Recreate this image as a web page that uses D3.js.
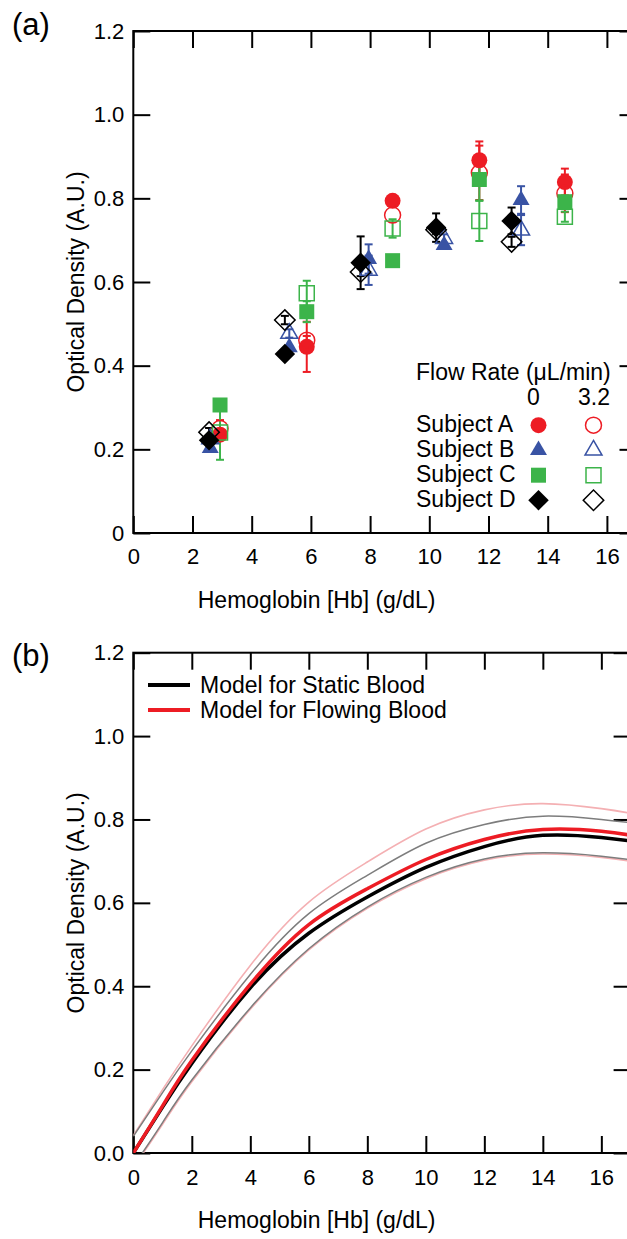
<!DOCTYPE html>
<html>
<head>
<meta charset="utf-8">
<script src="https://cdn.jsdelivr.net/npm/d3@7"></script>
<style>
  body { margin: 0; background: #fff; }
  svg { display: block; font-family: "Liberation Sans", Arial, sans-serif; }
</style>
</head>
<body>
<div id="chart"></div>
<script>
/*
*    Optical density vs hemoglobin: (a) measured points, (b) model curves
*/

// ---- data ----
var xTicks = [0, 2, 4, 6, 8, 10, 12, 14, 16];
var yTicks = [0, 0.2, 0.4, 0.6, 0.8, 1.0, 1.2];

// Hb levels (g/dL) per subject
var hbA = [2.93, 5.86, 8.76, 11.69, 14.58];
var hbB = [2.60, 5.27, 7.95, 10.50, 13.10];
var hbC = [2.93, 5.86, 8.76, 11.69, 14.58];
var hbD = [2.56, 5.12, 7.68, 10.23, 12.78];

// optical density at flow 0 and 3.2 uL/min, with error bars
var odA0  = [0.235, 0.445, 0.794, 0.891, 0.839];
var errA0 = [0.010, 0.060, 0.000, 0.045, 0.032];
var odA32  = [0.250, 0.461, 0.760, 0.861, 0.812];
var errA32 = [0.020, 0.010, 0.000, 0.065, 0.045];

var odB0  = [0.203, 0.444, 0.655, 0.688, 0.796];
var errB0 = [0.000, 0.000, 0.035, 0.000, 0.033];
var odB32  = [0.225, 0.477, 0.628, 0.704, 0.724];
var errB32 = [0.000, 0.010, 0.035, 0.010, 0.036];

var odC0  = [0.306, 0.529, 0.651, 0.845, 0.792];
var errC0 = [0.000, 0.025, 0.000, 0.050, 0.012];
var odC32  = [0.240, 0.573, 0.728, 0.746, 0.756];
var errC32 = [0.065, 0.030, 0.022, 0.048, 0.012];

var odD0  = [0.222, 0.428, 0.646, 0.730, 0.746];
var errD0 = [0.000, 0.000, 0.063, 0.034, 0.032];
var odD32  = [0.241, 0.509, 0.624, 0.725, 0.696];
var errD32 = [0.010, 0.010, 0.010, 0.010, 0.012];

// model curves, panel (b)
var hbModel = [0, 1, 2, 4, 6, 8, 10, 12, 14, 16, 17];
var odStatic   = [0, 0.110, 0.215, 0.396, 0.527, 0.614, 0.685, 0.735, 0.762, 0.757, 0.748];
var odStaticHi = [0.040, 0.145, 0.245, 0.428, 0.574, 0.666, 0.743, 0.788, 0.808, 0.800, 0.792];
var odStaticLo = [-0.032, 0.073, 0.175, 0.348, 0.490, 0.590, 0.661, 0.705, 0.720, 0.712, 0.703];
var odFlow   = [0, 0.113, 0.222, 0.405, 0.548, 0.634, 0.704, 0.752, 0.776, 0.772, 0.762];
var odFlowHi = [0.042, 0.152, 0.257, 0.450, 0.602, 0.698, 0.777, 0.823, 0.838, 0.826, 0.815];
var odFlowLo = [-0.035, 0.069, 0.171, 0.345, 0.487, 0.587, 0.658, 0.702, 0.717, 0.709, 0.700];

var RED = "#ed1c24", BLUE = "#3953a4", GREEN = "#3cb44a", BLACK = "#000";

var subjects = [
    { name: "Subject A", color: RED,   shape: "circle",   hb: hbA, od0: odA0, err0: errA0, od32: odA32, err32: errA32 },
    { name: "Subject B", color: BLUE,  shape: "triangle", hb: hbB, od0: odB0, err0: errB0, od32: odB32, err32: errB32 },
    { name: "Subject C", color: GREEN, shape: "square",   hb: hbC, od0: odC0, err0: errC0, od32: odC32, err32: errC32 },
    { name: "Subject D", color: BLACK, shape: "diamond",  hb: hbD, od0: odD0, err0: errD0, od32: odD32, err32: errD32 }
];

var svg = d3.select("#chart").append("svg")
    .attr("width", 627)
    .attr("height", 1239);

function markerPath(shape){
    if (shape == "circle")   return d3.symbol().type(d3.symbolCircle).size(200)();
    if (shape == "triangle") return d3.symbol().type(d3.symbolTriangle).size(125)();
    if (shape == "square")   return d3.symbol().type(d3.symbolSquare).size(225)();
    return d3.symbol().type(d3.symbolSquare).size(210)();
}

function drawMarker(g, shape, color, filled, cx, cy){
    g.append("path")
        .attr("d", markerPath(shape))
        .attr("transform", "translate(" + cx + "," + cy + ")" + (shape == "diamond" ? " rotate(45)" : ""))
        .style("fill", filled ? color : "none")
        .style("stroke", color)
        .style("stroke-width", filled ? 0 : 1.5);
}

// frame, inward ticks on all four sides
function drawFrame(x, y, fmt, padX){
    var x0 = x.range()[0], x1 = x.range()[1];
    var y0 = y.range()[0], y1 = y.range()[1];

    svg.append("g").attr("class", "x axis")
        .attr("transform", "translate(0," + y0 + ")")
        .call(d3.axisBottom(x).tickValues(xTicks).tickSizeInner(-17).tickSizeOuter(0).tickPadding(padX));
    svg.append("g")
        .attr("transform", "translate(0," + y1 + ")")
        .call(d3.axisTop(x).tickValues(xTicks).tickSizeInner(-17).tickSizeOuter(0).tickFormat(""));
    svg.append("g").attr("class", "y axis")
        .attr("transform", "translate(" + x0 + ",0)")
        .call(d3.axisLeft(y).tickValues(yTicks).tickSizeInner(-17).tickSizeOuter(0).tickPadding(9).tickFormat(fmt));
    svg.append("g")
        .attr("transform", "translate(" + x1 + ",0)")
        .call(d3.axisRight(y).tickValues(yTicks).tickSizeInner(-17).tickSizeOuter(0).tickFormat(""));

    svg.selectAll(".domain").remove();
    svg.selectAll(".tick line").style("stroke", "#000").style("stroke-width", 2);
    svg.selectAll(".tick text").style("font-size", "22px").style("fill", "#000").attr("font-family", null);

    svg.append("rect")
        .attr("x", x0).attr("y", y1)
        .attr("width", x1 - x0).attr("height", y0 - y1)
        .style("fill", "none").style("stroke", "#000").style("stroke-width", 2);

    svg.append("text")
        .attr("x", (x0 + 500) / 2)
        .attr("y", y0 + 75)
        .attr("text-anchor", "middle")
        .style("font-size", "23px")
        .text("Hemoglobin [Hb] (g/dL)");

    svg.append("text")
        .attr("transform", "translate(84," + (y0 + y1) / 2 + ") rotate(-90)")
        .attr("text-anchor", "middle")
        .style("font-size", "23px")
        .text("Optical Density (A.U.)");
}

// ---------------- panel (a) ----------------
var xA = d3.scaleLinear().domain([0, 17]).range([133.3, 636.5]);
var yA = d3.scaleLinear().domain([0, 1.2]).range([533, 31]);

svg.append("text").attr("x", 12).attr("y", 35).style("font-size", "31px").text("(a)");

drawFrame(xA, yA, function(d){ return d == 0 ? "0" : d3.format(".1f")(d); }, 15);

var gPts = svg.append("g");

// error bars under the markers
subjects.forEach(function(s){
    [[s.od0, s.err0], [s.od32, s.err32]].forEach(function(pair){
        s.hb.forEach(function(h, i){
            var e = pair[1][i];
            if (e <= 0) return;
            var cx = xA(h), ya = yA(pair[0][i] - e), yb = yA(pair[0][i] + e);
            gPts.append("line").attr("x1", cx).attr("x2", cx).attr("y1", ya).attr("y2", yb)
                .style("stroke", s.color).style("stroke-width", 2);
            [ya, yb].forEach(function(yy){
                gPts.append("line").attr("x1", cx - 4).attr("x2", cx + 4).attr("y1", yy).attr("y2", yy)
                    .style("stroke", s.color).style("stroke-width", 2);
            });
        });
    });
});

subjects.forEach(function(s){
    var order = s.shape == "diamond" ? [false, true] : [true, false];
    order.forEach(function(filled){
        var od = filled ? s.od0 : s.od32;
        s.hb.forEach(function(h, i){
            drawMarker(gPts, s.shape, s.color, filled, xA(h), yA(od[i]));
        });
    });
});

// legend (a)
var leg = svg.append("g").style("font-size", "23px");
leg.append("text").attr("x", 416).attr("y", 380).text("Flow Rate (\u03BCL/min)");
leg.append("text").attr("x", 533.5).attr("y", 405).attr("text-anchor", "middle").text("0");
leg.append("text").attr("x", 594).attr("y", 405).attr("text-anchor", "middle").text("3.2");
subjects.forEach(function(s, i){
    var base = 431.7 + i * 25;
    leg.append("text").attr("x", 416).attr("y", base).text(s.name);
    drawMarker(leg, s.shape, s.color, true, 538.5, base - 6.5);
    drawMarker(leg, s.shape, s.color, false, 593.5, base - 6.5);
});

// ---------------- panel (b) ----------------
var xB = d3.scaleLinear().domain([0, 17]).range([133.3, 630.6]);
var yB = d3.scaleLinear().domain([0, 1.2]).range([1153, 652.7]);

svg.append("text").attr("x", 12).attr("y", 666).style("font-size", "31px").text("(b)");

drawFrame(xB, yB, d3.format(".1f"), 16);

svg.append("clipPath").attr("id", "clip-b")
    .append("rect")
    .attr("x", xB.range()[0]).attr("y", yB.range()[1])
    .attr("width", xB.range()[1] - xB.range()[0])
    .attr("height", yB.range()[0] - yB.range()[1]);

var line = d3.line()
    .x(function(d){ return xB(d[0]); })
    .y(function(d){ return yB(d[1]); })
    .curve(d3.curveNatural);

var curves = [
    { od: odFlowLo,   color: "#f4b0b3", width: 1.6 },
    { od: odFlowHi,   color: "#f4b0b3", width: 1.6 },
    { od: odStaticLo, color: "#7d7d7d", width: 1.5 },
    { od: odStaticHi, color: "#7d7d7d", width: 1.5 },
    { od: odStatic,   color: BLACK,     width: 3.5 },
    { od: odFlow,     color: RED,       width: 3.5 }
];

var gCurves = svg.append("g").attr("clip-path", "url(#clip-b)");
curves.forEach(function(c){
    gCurves.append("path")
        .datum(hbModel.map(function(h, i){ return [h, c.od[i]]; }))
        .attr("d", line)
        .style("fill", "none")
        .style("stroke", c.color)
        .style("stroke-width", c.width);
});

// legend (b)
var legB = svg.append("g").style("font-size", "23px");
[["Model for Static Blood", BLACK], ["Model for Flowing Blood", RED]].forEach(function(d, i){
    var yy = 685 + i * 25;
    legB.append("line").attr("x1", 148).attr("x2", 190).attr("y1", yy).attr("y2", yy)
        .style("stroke", d[1]).style("stroke-width", 4);
    legB.append("text").attr("x", 200).attr("y", yy + 8).text(d[0]);
});
</script>
</body>
</html>
